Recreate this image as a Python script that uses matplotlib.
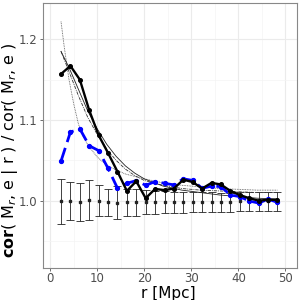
import matplotlib
matplotlib.use("Agg")
import matplotlib.pyplot as plt
from matplotlib.ticker import MultipleLocator

# ---- data ----
r = [2.3, 4.3, 6.3, 8.3, 10.3, 12.3, 14.3, 16.3, 18.3, 20.3, 22.3, 24.3,
     26.3, 28.3, 30.3, 32.3, 34.3, 36.3, 38.3, 40.3, 42.3, 44.3, 46.3, 48.3]

obs_black = [1.157, 1.167, 1.150, 1.112, 1.081, 1.059, 1.036, 1.012, 1.024, 1.003,
             1.0145, 1.013, 1.015, 1.026, 1.023, 1.015, 1.022, 1.020, 1.012, 1.007,
             1.003, 1.000, 1.001, 1.001]

obs_blue = [1.049, 1.085, 1.089, 1.068, 1.062, 1.040, 1.0154, 1.0215, 1.0248, 1.019,
            1.0236, 1.0215, 1.0195, 1.027, 1.025, 1.0153, 1.018, 1.0174, 1.007, 1.005,
            0.9996, 0.997, 1.0017, 0.998]

null_mean = [0.999, 0.999, 0.998, 1.001, 1.000, 0.998, 0.9975, 0.998, 0.998, 0.998,
             0.998, 0.998, 0.998, 0.998, 0.998, 0.998, 0.998, 0.998, 0.998, 0.999,
             0.999, 0.999, 0.999, 0.999]
null_err = [0.028, 0.0235, 0.0235, 0.0245, 0.019, 0.0165, 0.0205, 0.0165, 0.0165, 0.015,
            0.014, 0.0135, 0.013, 0.013, 0.0125, 0.0125, 0.0125, 0.012, 0.012, 0.012,
            0.0115, 0.0115, 0.0115, 0.0115]

r_model = [2.3, 4, 6, 8, 10, 12, 14, 16, 18, 20, 24, 28, 32, 36, 40, 44, 48.3]
model_solid = [1.185, 1.165, 1.138, 1.111, 1.089, 1.070, 1.055, 1.043, 1.034, 1.027,
               1.018, 1.013, 1.010, 1.007, 1.005, 1.003, 1.002]
model_dotdash = [1.185, 1.160, 1.130, 1.103, 1.082, 1.064, 1.050, 1.039, 1.031, 1.025,
                 1.019, 1.015, 1.013, 1.012, 1.011, 1.010, 1.010]

r_dot = [2.3, 3, 4, 5, 6, 7, 8, 10, 12, 14, 16, 18, 20, 24, 28, 32, 36, 40, 44, 48.3]
model_dotted = [1.222, 1.19, 1.15, 1.12, 1.095, 1.08, 1.069, 1.054, 1.044, 1.038,
                1.033, 1.030, 1.027, 1.022, 1.019, 1.017, 1.015, 1.014, 1.013, 1.013]

fig = plt.figure(figsize=(3, 3), dpi=100)
ax = fig.add_axes([0.143, 0.107, 0.846, 0.883])

# grid
ax.set_axisbelow(True)
ax.xaxis.set_major_locator(MultipleLocator(10))
ax.xaxis.set_minor_locator(MultipleLocator(5))
ax.yaxis.set_major_locator(MultipleLocator(0.1))
ax.yaxis.set_minor_locator(MultipleLocator(0.05))
ax.grid(which="major", color="#EBEBEB", linewidth=0.8)
ax.grid(which="minor", color="#F4F4F4", linewidth=0.5)
ax.tick_params(which="minor", length=0)
ax.tick_params(which="major", length=2.5, width=0.6, color="#555555",
               labelcolor="#4D4D4D", labelsize=8.5, pad=1.2)
ax.tick_params(axis="x", which="major", pad=0.6)

# null error bars
ax.errorbar(r, null_mean, yerr=null_err, fmt="s", color="#222222", ms=1.6,
            elinewidth=0.6, capsize=2.6, capthick=0.6, zorder=2)

# model curves
ax.plot(r_dot, model_dotted, color="#555555", lw=0.6, ls=(0, (1, 1)), zorder=3)
ax.plot(r_model, model_dotdash, color="#333333", lw=0.6, ls=(0, (4, 1.2, 1, 1.2)), zorder=3)
ax.plot(r_model, model_solid, color="#222222", lw=0.6, zorder=3)

# observed
ax.plot(r, obs_blue, color="#0000FF", lw=2.0, ls=(0, (5, 2.2)), zorder=4)
ax.plot(r, obs_blue, "o", color="#0000FF", ms=2.8, zorder=4)
ax.plot(r, obs_black, color="black", lw=1.7, zorder=5)
ax.plot(r, obs_black, "o", color="black", ms=2.6, zorder=5)

ax.set_xlim(-1.55, 52.4)
ax.set_ylim(0.9166, 1.245)

for s in ax.spines.values():
    s.set_color("#888888")
    s.set_linewidth(0.8)

ax.set_xlabel("r [Mpc]", fontsize=11)
ax.xaxis.set_label_coords(0.496, -0.07)
ax.set_ylabel(r"$\mathbf{cor}$( M$_r$, e | r ) / cor( M$_r$, e )", fontsize=11.5)
ax.yaxis.set_label_coords(-0.128, 0.445)
ax.yaxis.label.set_verticalalignment("center")

fig.savefig("out.png", dpi=100)
